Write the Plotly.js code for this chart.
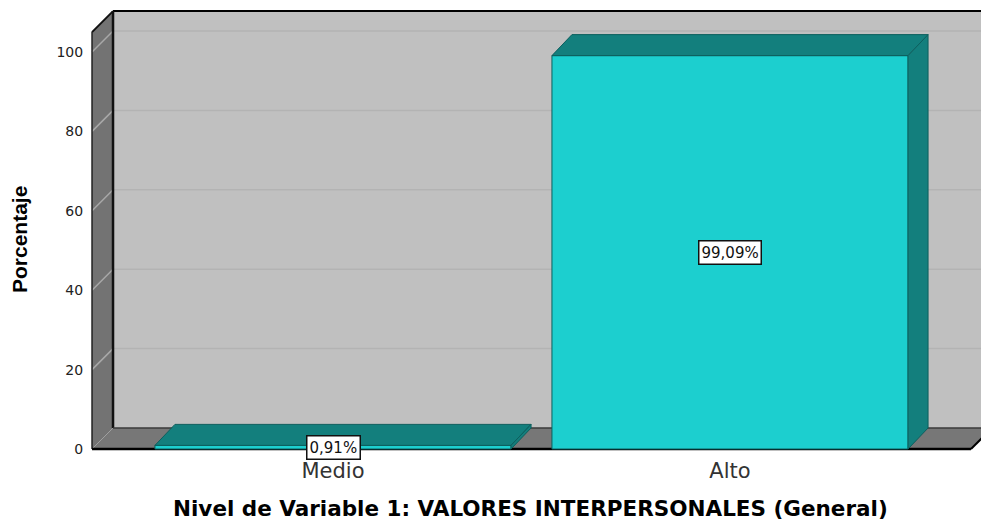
<!DOCTYPE html>
<html>
<head>
<meta charset="utf-8">
<script src="https://cdn.plot.ly/plotly-3.0.1.min.js"></script>
<style>
html, body { margin: 0; padding: 0; background: #fff; }
#chart { width: 981px; height: 522px; }
</style>
</head>
<body>
<div id="chart"></div>
<script>
const categories = ['Medio', 'Alto'];
const percents = [0.91, 99.09];
const barLabels = ['0,91%', '99,09%'];
const yTicks = [0, 20, 40, 60, 80, 100];

const xTitle = 'Nivel de Variable 1: VALORES INTERPERSONALES (General)';
const yTitle = 'Porcentaje';

// 3D box: depth expressed in axis units (21px on screen, bars 20px across)
const pxX = 397, pxY = 3.97;
const dx = 21 / pxX, dy = 21 / pxY, barDx = 20 / pxX;
const barWidth = 0.897;
const floorL = -0.607, floorR = 1.607, wallTop = 110.3 - dy;

const teal = '#137f7d', edge = '#0d5f5e', cyan = '#1ccfcf';

function poly(xs, ys, fill, line, w) {
    const path = xs.map((x, i) => (i ? 'L' : 'M') + x + ',' + ys[i]).join(' ') + ' Z';
    return { type: 'path', layer: 'below', xref: 'x', yref: 'y', path: path,
        fillcolor: fill, line: { color: line, width: w } };
}
function seg(x0, y0, x1, y1, color, w) {
    return { type: 'line', layer: 'below', xref: 'x', yref: 'y', x0, y0, x1, y1,
        line: { color: color, width: w } };
}

const shapes = [
    // back wall, left wall, floor
    poly([floorL + dx, floorR + 1, floorR + 1, floorL + dx], [dy, dy, wallTop + dy, wallTop + dy], '#c0c0c0', '#c0c0c0', 0),
    poly([floorL, floorL + dx, floorL + dx, floorL], [0, dy, wallTop + dy, wallTop], '#737373', '#737373', 0),
    poly([floorL, floorR, floorR + dx, floorL + dx], [0, 0, dy, dy], '#777777', '#777777', 0),
];
yTicks.slice(1).forEach(t => {
    shapes.push(seg(floorL + dx, t + dy, floorR + 1, t + dy, '#b3b3b3', 1.5));
    shapes.push(seg(floorL, t, floorL + dx, t + dy, '#a8a8a8', 1.5));
});
shapes.push(seg(floorL + dx, wallTop + dy, floorR + 1, wallTop + dy, '#000', 2));
shapes.push(seg(floorL + dx, dy, floorL + dx, wallTop + dy, '#111', 2.5));
shapes.push(seg(floorL, wallTop, floorL + dx, wallTop + dy, '#111', 2));
shapes.push(seg(floorL, 0, floorL, wallTop, '#222', 1.5));
shapes.push(seg(floorL + dx, dy, floorR + 1, dy, '#3a3a3a', 1.5));
shapes.push(seg(floorL, 0, floorL + dx, dy, '#a0a0a0', 1));
shapes.push(seg(floorL, 0, floorR, 0, '#000', 2.5));
shapes.push(seg(floorR, 0, floorR + dx, dy, '#000', 2));

// top and side faces of each bar, taken from its value
const faces = [];
categories.forEach((c, i) => {
    const l = i - barWidth / 2, r = i + barWidth / 2, v = percents[i];
    faces.push({ x: [l, r, r + barDx, l + barDx, l], y: [v, v, v + dy, v + dy, v] });
    faces.push({ x: [r, r + barDx, r + barDx, r, r], y: [0, dy, v + dy, v, 0] });
});
const faceTraces = faces.map(f => ({
    type: 'scatter', mode: 'lines', x: f.x, y: f.y, fill: 'toself', fillcolor: teal,
    line: { color: edge, width: 1 }, hoverinfo: 'skip', showlegend: false
}));

const bars = {
    type: 'bar', x: categories.map((c, i) => i), y: percents, width: barWidth,
    marker: { color: cyan, line: { color: edge, width: 1 } }, showlegend: false
};

const annotations = categories.map((c, i) => ({
    x: i, y: percents[i] / 2, xref: 'x', yref: 'y', text: barLabels[i], showarrow: false,
    font: { family: 'DejaVu Sans', size: 15, color: '#111' },
    bgcolor: '#fff', bordercolor: '#111', borderwidth: 1.5, borderpad: 2
}));
annotations.push({
    xref: 'paper', yref: 'paper', x: (530 - 88) / 893, y: (451 - 509) / 446, text: '<b>' + xTitle + '</b>',
    showarrow: false, font: { family: 'DejaVu Sans', size: 21.5, color: '#000' }, yanchor: 'middle'
});
annotations.push({
    xref: 'paper', yref: 'paper', x: (19 - 88) / 893, y: (451 - 240) / 446, text: '<b>' + yTitle + '</b>', textangle: -90,
    showarrow: false, font: { family: 'Liberation Sans', size: 21, color: '#000' }, xanchor: 'center'
});

const layout = {
    width: 981, height: 522,
    margin: { l: 88, r: 0, t: 5, b: 71 },
    paper_bgcolor: '#fff', plot_bgcolor: '#fff',
    showlegend: false,
    xaxis: {
        range: [(88 - 333) / pxX, (981 - 333) / pxX],
        tickvals: categories.map((c, i) => i), ticktext: categories,
        showgrid: false, zeroline: false, showline: false,
        ticks: 'outside', ticklen: 1, tickcolor: 'rgba(0,0,0,0)',
        tickfont: { family: 'DejaVu Sans', size: 21, color: '#333' }
    },
    yaxis: {
        range: [(449 - 451) / pxY, (449 - 5) / pxY],
        tickvals: yTicks,
        showgrid: false, zeroline: false, showline: false,
        ticks: 'outside', ticklen: 1, tickcolor: 'rgba(0,0,0,0)',
        tickfont: { family: 'DejaVu Sans', size: 14, color: '#222' }
    },
    shapes: shapes,
    annotations: annotations
};

Plotly.newPlot('chart', [bars].concat(faceTraces), layout, { displayModeBar: false });
</script>
</body>
</html>
